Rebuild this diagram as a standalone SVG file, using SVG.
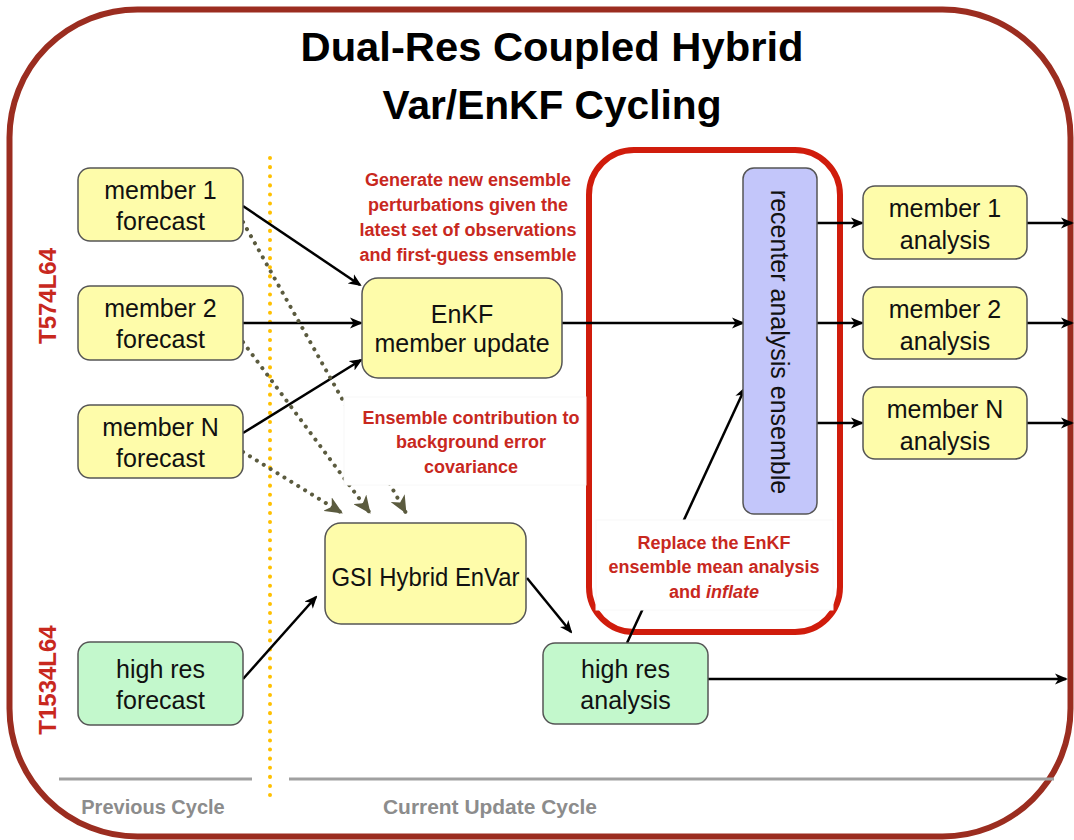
<svg xmlns="http://www.w3.org/2000/svg" width="1074" height="840" viewBox="0 0 1074 840">
<style>
.nt{font-family:"Liberation Sans",Arial,sans-serif;font-size:25px;fill:#111;text-anchor:middle}
.rt{font-family:"Liberation Sans",Arial,sans-serif;font-size:18px;font-weight:bold;fill:#c8281e;text-anchor:middle}
.gt{font-family:"Liberation Sans",Arial,sans-serif;font-size:20px;font-weight:bold;fill:#8c8c8c;text-anchor:middle}
.tt{font-family:"Liberation Sans",Arial,sans-serif;font-size:40px;font-weight:bold;fill:#000;text-anchor:middle}
.yel{fill:#fefcaa;stroke:#555;stroke-width:1.5}
.grn{fill:#c3f8cc;stroke:#555;stroke-width:1.5}
.lav{fill:#c3c6fa;stroke:#555;stroke-width:1.5}
.sol{fill:none;stroke:#000;stroke-width:2.5;marker-end:url(#arr)}
.dot{fill:none;stroke:#5b5b3f;stroke-width:4;stroke-linecap:round;stroke-dasharray:0.1 8;marker-end:url(#darr)}
.wb{fill:#fff;stroke:#f8f8f8;stroke-width:1}
</style>
<defs>
<marker id="arr" viewBox="0 0 13 12" refX="11" refY="6" markerWidth="13" markerHeight="12" markerUnits="userSpaceOnUse" orient="auto">
<path d="M0,0.5 L13,6 L0,11.5 L3.5,6 z" fill="#000"/>
</marker>
<marker id="darr" viewBox="0 0 18 16" refX="17" refY="8" markerWidth="18" markerHeight="16" markerUnits="userSpaceOnUse" orient="auto">
<path d="M0,0 L18,8 L0,16 L5,8 z" fill="#5b5b3f"/>
</marker>
</defs>
<rect width="1074" height="840" fill="#fff"/>
<rect id="frame" x="9.5" y="9.5" width="1061" height="827" rx="128" ry="128" fill="#fff" stroke="#9b2d20" stroke-width="6"/>

<g id="title">
<text class="tt" x="552" y="61" textLength="503" lengthAdjust="spacingAndGlyphs">Dual-Res Coupled Hybrid</text>
<text class="tt" x="552" y="119" textLength="339" lengthAdjust="spacingAndGlyphs">Var/EnKF Cycling</text>
</g>

<g id="resolution-labels" font-family="Liberation Sans, Arial, sans-serif" font-size="24" font-weight="bold" fill="#c8281e" text-anchor="middle">
<text transform="translate(56,296) rotate(-90)">T574L64</text>
<text transform="translate(56,680) rotate(-90)">T1534L64</text>
</g>

<g id="cycle-axis">
<line x1="270" y1="158" x2="270" y2="800" stroke="#ffc000" stroke-width="4" stroke-linecap="round" stroke-dasharray="0.1 9"/>
<line x1="59" y1="779" x2="252" y2="779" stroke="#a0a0a0" stroke-width="3"/>
<line x1="289" y1="779" x2="1054" y2="779" stroke="#a0a0a0" stroke-width="3"/>
<text class="gt" x="153" y="814">Previous Cycle</text>
<text class="gt" x="490" y="814" textLength="214" lengthAdjust="spacingAndGlyphs">Current Update Cycle</text>
</g>

<g id="recenter-group">
<rect x="589" y="150" width="251" height="482" rx="45" ry="45" fill="none" stroke="#d01c0c" stroke-width="6"/>
</g>

<g id="connectors">
<path class="sol" d="M243,206 L360,285"/>
<path class="sol" d="M243,323 L361,323"/>
<path class="sol" d="M243,433 L361,360"/>
<path class="sol" d="M562,323 L743,323"/>
<path class="sol" d="M817,223 L862,223"/>
<path class="sol" d="M817,323 L862,323"/>
<path class="sol" d="M817,423 L862,423"/>
<path class="sol" d="M1027,223 L1072,223"/>
<path class="sol" d="M1027,323 L1072,323"/>
<path class="sol" d="M1027,423 L1072,423"/>
<path class="sol" d="M243,679 L316,597"/>
<path class="sol" d="M527,578 L571,632"/>
<path class="sol" d="M708,679 L1066,679"/>
<path class="sol" d="M627,643 L745,388"/>
<path class="dot" d="M243,222 L406,513"/>
<path class="dot" d="M243,342 L370,513"/>
<path class="dot" d="M243,452 L342,513"/>
</g>

<g id="note-generate">
<text class="rt" x="468" y="186">Generate new ensemble</text>
<text class="rt" x="468" y="211">perturbations given the</text>
<text class="rt" x="468" y="236">latest set of observations</text>
<text class="rt" x="468" y="261">and first-guess ensemble</text>
</g>

<g id="note-contribution">
<rect class="wb" x="344" y="397" width="242" height="88"/>
<text class="rt" x="471" y="424">Ensemble contribution to</text>
<text class="rt" x="471" y="448">background error</text>
<text class="rt" x="471" y="473">covariance</text>
</g>

<g id="note-replace">
<rect class="wb" x="596" y="520" width="237" height="90"/>
<text class="rt" x="714" y="549">Replace the EnKF</text>
<text class="rt" x="714" y="573">ensemble mean analysis</text>
<text class="rt" x="714" y="598">and <tspan font-style="italic">inflate</tspan></text>
</g>

<g id="member1-forecast">
<rect class="yel" x="78" y="168" width="165" height="73" rx="12"/>
<text class="nt" x="160.5" y="199">member 1</text>
<text class="nt" x="160.5" y="230">forecast</text>
</g>
<g id="member2-forecast">
<rect class="yel" x="78" y="286" width="165" height="74" rx="12"/>
<text class="nt" x="160.5" y="317">member 2</text>
<text class="nt" x="160.5" y="348">forecast</text>
</g>
<g id="memberN-forecast">
<rect class="yel" x="78" y="405" width="165" height="73" rx="12"/>
<text class="nt" x="160.5" y="436">member N</text>
<text class="nt" x="160.5" y="467">forecast</text>
</g>
<g id="enkf-update">
<rect class="yel" x="362" y="278" width="200" height="100" rx="16"/>
<text class="nt" x="462" y="323">EnKF</text>
<text class="nt" x="462" y="352">member update</text>
</g>
<g id="recenter">
<rect class="lav" x="743" y="168" width="74" height="346" rx="11"/>
<text class="nt" transform="translate(771,342) rotate(90)">recenter analysis ensemble</text>
</g>
<g id="member1-analysis">
<rect class="yel" x="863" y="186" width="164" height="73" rx="12"/>
<text class="nt" x="945" y="217">member 1</text>
<text class="nt" x="945" y="249">analysis</text>
</g>
<g id="member2-analysis">
<rect class="yel" x="863" y="287" width="164" height="72" rx="12"/>
<text class="nt" x="945" y="318">member 2</text>
<text class="nt" x="945" y="350">analysis</text>
</g>
<g id="memberN-analysis">
<rect class="yel" x="863" y="387" width="164" height="72" rx="12"/>
<text class="nt" x="945" y="418">member N</text>
<text class="nt" x="945" y="450">analysis</text>
</g>
<g id="gsi-hybrid">
<rect class="yel" x="325" y="523" width="201" height="101" rx="16"/>
<text class="nt" x="425.5" y="586" textLength="188" lengthAdjust="spacingAndGlyphs">GSI Hybrid EnVar</text>
</g>
<g id="highres-forecast">
<rect class="grn" x="78" y="642" width="165" height="83" rx="12"/>
<text class="nt" x="160.5" y="678">high res</text>
<text class="nt" x="160.5" y="709">forecast</text>
</g>
<g id="highres-analysis">
<rect class="grn" x="543" y="643" width="165" height="81" rx="12"/>
<text class="nt" x="625.5" y="678">high res</text>
<text class="nt" x="625.5" y="709">analysis</text>
</g>
</svg>
